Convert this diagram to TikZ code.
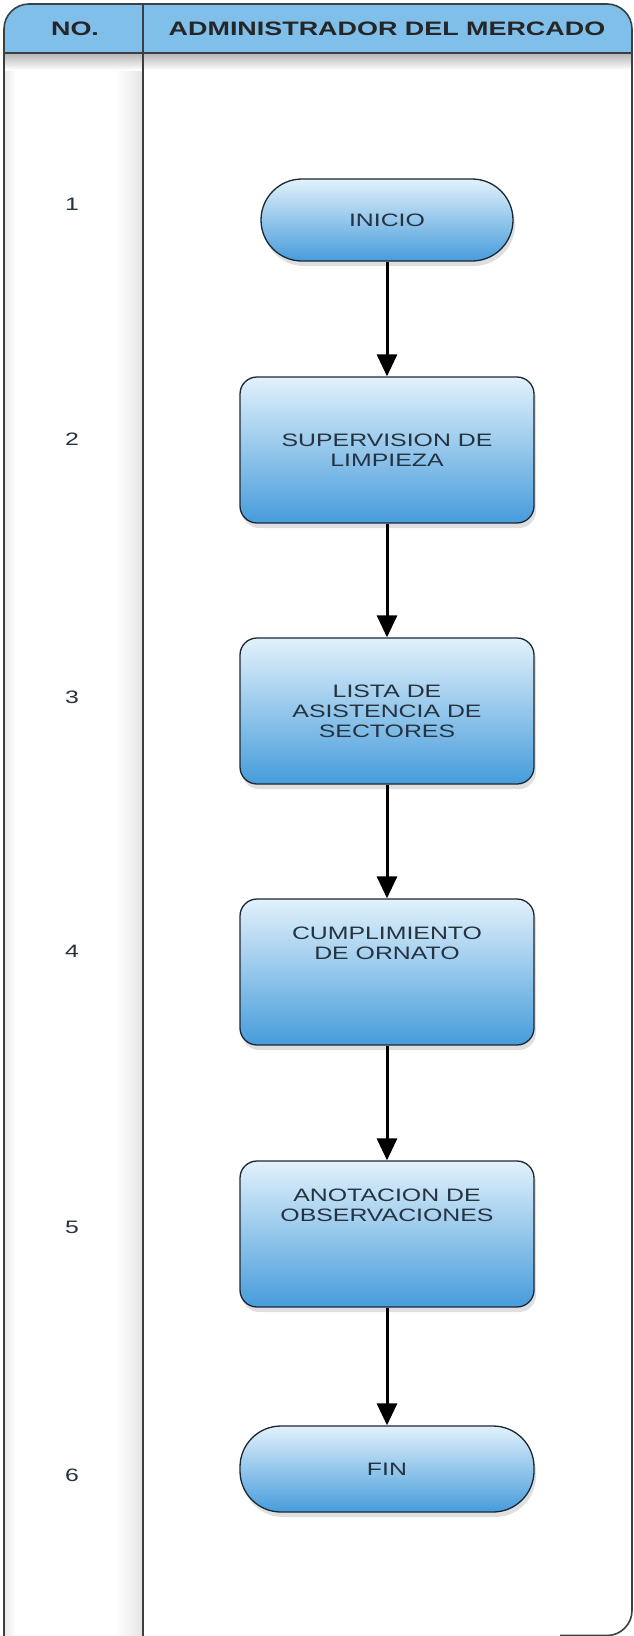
\documentclass[tikz,border=0pt]{standalone}
\usepackage{fontspec}
\setmainfont{Liberation Sans}
\newfontfamily\flowfont[FakeStretch=1.38]{Liberation Sans}
\usetikzlibrary{positioning,arrows.meta,shadows}
\definecolor{headblue}{HTML}{80BFEA}
\definecolor{boxtop}{HTML}{E2F1FB}
\definecolor{boxbot}{HTML}{469CDB}
\definecolor{boxline}{HTML}{1B2733}
\definecolor{framec}{HTML}{3A3F43}
\definecolor{inkc}{HTML}{25323F}

\begin{document}
\begin{tikzpicture}[x=1pt,y=-1pt,
  every node/.style={font=\flowfont},
  proc/.style={draw=boxline,line width=1.3pt,rounded corners=17pt,
    top color=boxtop,bottom color=boxbot,
    drop shadow={shadow xshift=2pt,shadow yshift=-5pt,opacity=0.25},
    align=center,text=inkc,inner sep=0pt,
    font=\flowfont\fontsize{18}{20}\selectfont},
  term/.style={proc,rounded corners=41pt},
  lift/.style={text depth=58pt},
  num/.style={font=\flowfont\fontsize{18}{20}\selectfont,text=inkc},
  hd/.style={font=\flowfont\bfseries\fontsize{19.5}{22}\selectfont,text=black!85},
  frame/.style={draw=framec,line width=1.6pt},
  flow/.style={line width=3pt,-{Triangle[width=20pt,length=22pt]}}]
\useasboundingbox[fill=white] (0,0) rectangle (634,1636);
% soft shadows and header band
\fill[left color=white,right color=black!10] (115,54) rectangle (142,1640);
\fill[left color=black!8,right color=white] (5,54) rectangle (16,1640);
\fill[top color=black!28,bottom color=white] (5,54) rectangle (631,70);
\fill[headblue,rounded corners=25pt] (4,53) -- (4,4) -- (632,4) -- (632,53);
% lanes
\draw[frame,rounded corners=25pt] (4,1660) -- (4,4) -- (632,4) -- (632,1635.5) -- (560,1635.5);
\draw[frame] (4,53) -- (632,53);
\draw[frame] (143,4) -- (143,1660);
\node[hd] (hno) at (75,29) {NO.};
\node[hd] (hadm) at (387,29) {ADMINISTRADOR DEL MERCADO};
% steps
\foreach \i/\ny/\by/\s/\w/\h/\op/\t in {
  1/204/220/term/252/82//{INICIO},
  2/439/450/proc/294/146//{SUPERVISION DE\\LIMPIEZA},
  3/697/711/proc/294/146//{LISTA DE\\ASISTENCIA DE\\SECTORES},
  4/951/972/proc/294/146/lift/{CUMPLIMIENTO\\DE ORNATO},
  5/1227/1234/proc/294/146/lift/{ANOTACION DE\\OBSERVACIONES},
  6/1475/1469/term/294/86//{FIN}}{
    \node[num] (n\i) at (72,\ny) {\i};
    \node[\s,\op,minimum width=\w pt,minimum height=\h pt] (s\i) at (387,\by) {\t};
}
\foreach \i/\j in {1/2,2/3,3/4,4/5,5/6}
  \draw[flow] (s\i) -- (s\j);
\end{tikzpicture}
\end{document}
